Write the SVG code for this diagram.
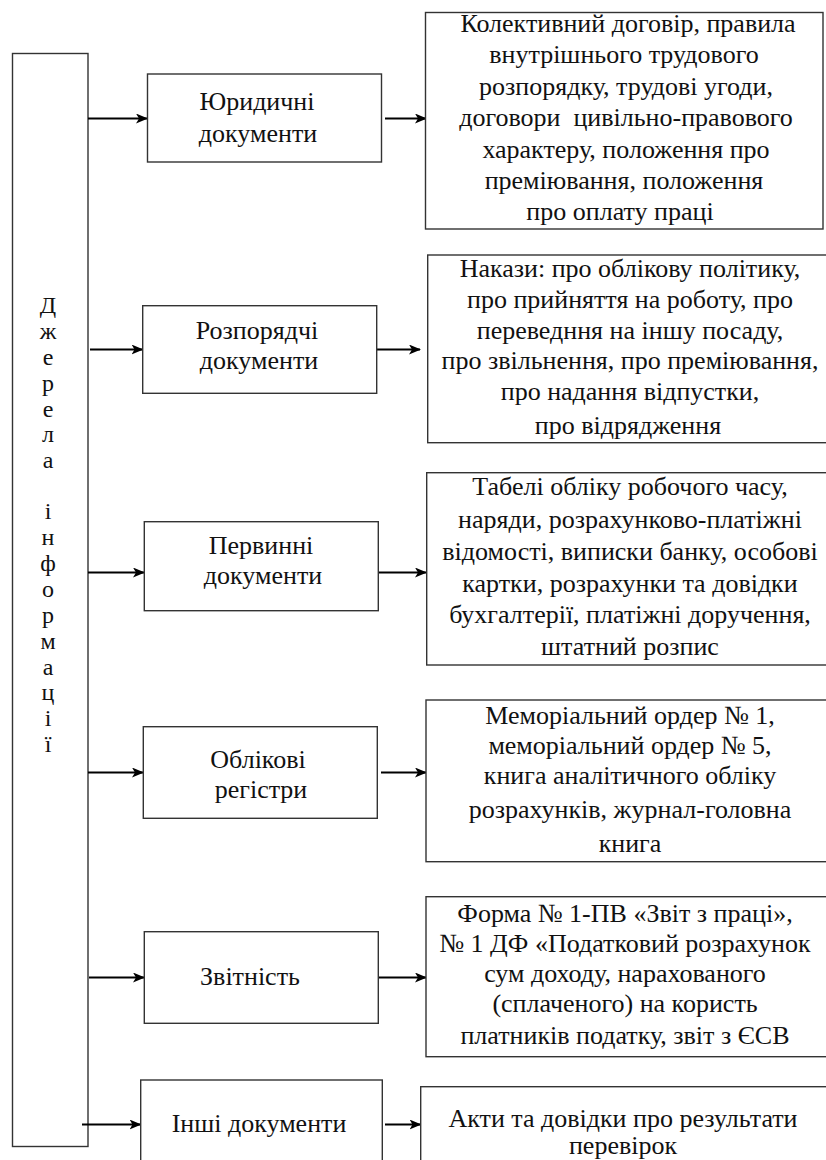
<svg xmlns="http://www.w3.org/2000/svg" width="826" height="1160" viewBox="0 0 826 1160">
<defs>
<style>
.box{fill:#fff;stroke:#333;stroke-width:1.4}
.t{font-family:"Liberation Serif","Times New Roman",serif;font-size:26px;fill:#111;text-anchor:middle}
.v{font-family:"Liberation Serif","Times New Roman",serif;font-size:24px;fill:#111;text-anchor:middle}
.c{stroke:#000;stroke-width:2;fill:none;marker-end:url(#ah)}
</style>
<marker id="ah" markerWidth="12" markerHeight="10" refX="11" refY="5" orient="auto" markerUnits="userSpaceOnUse">
<path d="M0,0 L12,5 L0,10 L3,5 z" fill="#000"/>
</marker>
</defs>
<rect width="826" height="1160" fill="#fff"/>
<g id="source">
<rect class="box" x="12.5" y="53.5" width="75.5" height="1093"/>
<g class="v">
<text x="48" y="313">Д</text>
<text x="48" y="339">ж</text>
<text x="48" y="365">е</text>
<text x="48" y="391">р</text>
<text x="48" y="417">е</text>
<text x="48" y="442">л</text>
<text x="48" y="468">а</text>
<text x="48" y="519">і</text>
<text x="48" y="545">н</text>
<text x="48" y="571">ф</text>
<text x="48" y="597">о</text>
<text x="48" y="623">р</text>
<text x="48" y="649">м</text>
<text x="48" y="675">а</text>
<text x="48" y="700">ц</text>
<text x="48" y="726">і</text>
<text x="48" y="752">ї</text>
</g>
</g>
<g id="connectors">
<path class="c" d="M88,118.5 H147"/>
<path class="c" d="M385,118.5 H426"/>
<path class="c" d="M90,349.5 H142.5"/>
<path class="c" d="M377,349.5 H420"/>
<path class="c" d="M88,572.5 H144"/>
<path class="c" d="M378,572.5 H426"/>
<path class="c" d="M88,772.5 H143"/>
<path class="c" d="M381,772.5 H426"/>
<path class="c" d="M89,977.5 H144"/>
<path class="c" d="M379,977.5 H426"/>
<path class="c" d="M82,1124.5 H140.5"/>
<path class="c" d="M385,1124.5 H420.5"/>
</g>
<g id="n1">
<rect class="box" x="147.5" y="74" width="234" height="88"/>
<text class="t" x="257" y="110">Юридичні</text>
<text class="t" x="258" y="142">документи</text>
</g>
<g id="r1">
<rect class="box" x="425.5" y="12.5" width="397.5" height="216.5"/>
<text class="t" x="628" y="32">Колективний договір, правила</text>
<text class="t" x="624" y="63">внутрішнього трудового</text>
<text class="t" x="626" y="95">розпорядку, трудові угоди,</text>
<text class="t" x="626" y="126" xml:space="preserve">договори  цивільно-правового</text>
<text class="t" x="626" y="158">характеру, положення про</text>
<text class="t" x="624" y="189">преміювання, положення</text>
<text class="t" x="620" y="220">про оплату праці</text>
</g>
<g id="n2">
<rect class="box" x="142.7" y="305.7" width="234" height="87.6"/>
<text class="t" x="257" y="339">Розпорядчі</text>
<text class="t" x="259" y="369">документи</text>
</g>
<g id="r2">
<rect class="box" x="427.7" y="255" width="402" height="187.7"/>
<text class="t" x="630" y="277">Накази: про облікову політику,</text>
<text class="t" x="630" y="308">про прийняття на роботу, про</text>
<text class="t" x="630" y="339">переведння на іншу посаду,</text>
<text class="t" x="630" y="369">про звільнення, про преміювання,</text>
<text class="t" x="630" y="400">про надання відпустки,</text>
<text class="t" x="628" y="434">про відрядження</text>
</g>
<g id="n3">
<rect class="box" x="144.3" y="521.7" width="234" height="89"/>
<text class="t" x="261" y="554">Первинні</text>
<text class="t" x="263" y="584">документи</text>
</g>
<g id="r3">
<rect class="box" x="426.7" y="472.7" width="403" height="192.3"/>
<text class="t" x="630" y="495">Табелі обліку робочого часу,</text>
<text class="t" x="630" y="528">наряди, розрахунково-платіжні</text>
<text class="t" x="630" y="560">відомості, виписки банку, особові</text>
<text class="t" x="630" y="592">картки, розрахунки та довідки</text>
<text class="t" x="630" y="623">бухгалтерії, платіжні доручення,</text>
<text class="t" x="630" y="655">штатний розпис</text>
</g>
<g id="n4">
<rect class="box" x="143.3" y="726.7" width="234" height="91.6"/>
<text class="t" x="258" y="768">Облікові</text>
<text class="t" x="261" y="798">регістри</text>
</g>
<g id="r4">
<rect class="box" x="426" y="700" width="404" height="161.7"/>
<text class="t" x="630" y="724">Меморіальний ордер № 1,</text>
<text class="t" x="630" y="754">меморіальний ордер № 5,</text>
<text class="t" x="630" y="784">книга аналітичного обліку</text>
<text class="t" x="630" y="818">розрахунків, журнал-головна</text>
<text class="t" x="630" y="852">книга</text>
</g>
<g id="n5">
<rect class="box" x="144.3" y="931.7" width="234" height="91.6"/>
<text class="t" x="250" y="985">Звітність</text>
</g>
<g id="r5">
<rect class="box" x="426" y="896.7" width="404" height="160"/>
<text class="t" x="625" y="922">Форма № 1-ПВ «Звіт з праці»,</text>
<text class="t" x="625" y="952">№ 1 ДФ «Податковий розрахунок</text>
<text class="t" x="625" y="982">сум доходу, нарахованого</text>
<text class="t" x="625" y="1012">(сплаченого) на користь</text>
<text class="t" x="625" y="1044">платників податку, звіт з ЄСВ</text>
</g>
<g id="n6">
<rect class="box" x="140.7" y="1080" width="241.6" height="100"/>
<text class="t" x="259" y="1132">Інші документи</text>
</g>
<g id="r6">
<rect class="box" x="420.7" y="1086.7" width="410" height="100"/>
<text class="t" x="623" y="1127">Акти та довідки про результати</text>
<text class="t" x="623" y="1154">перевірок</text>
</g>
</svg>
